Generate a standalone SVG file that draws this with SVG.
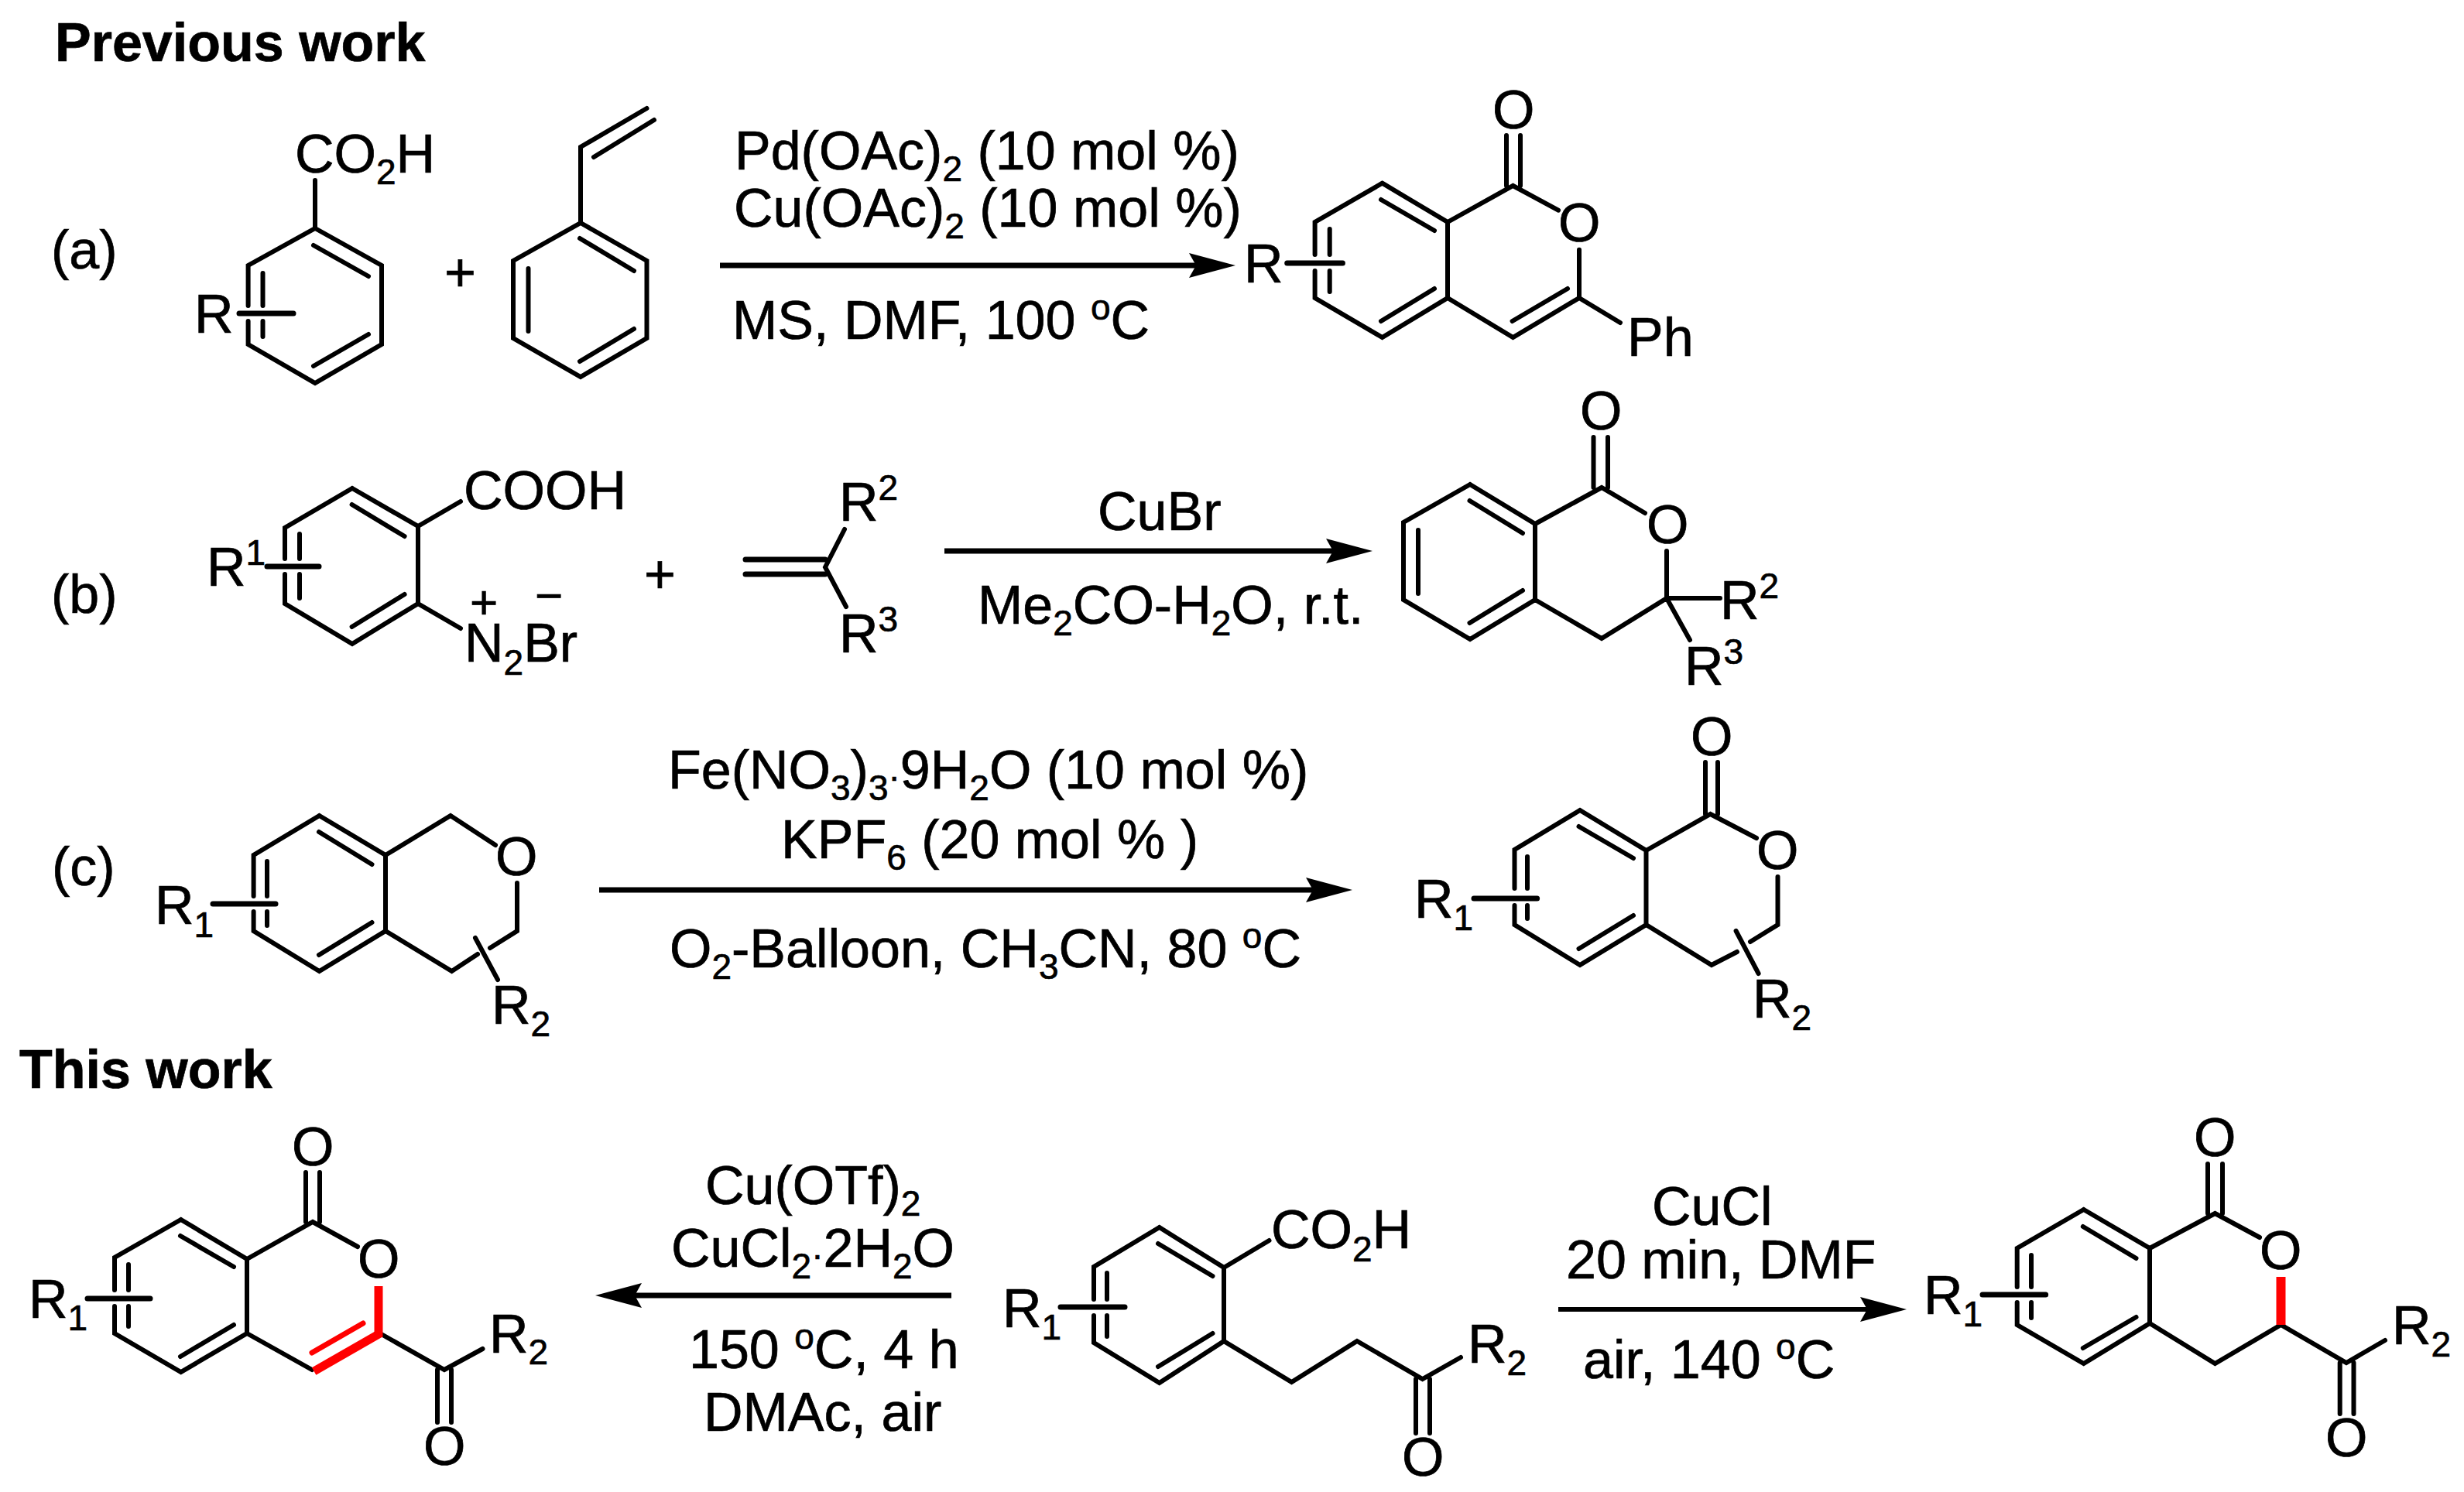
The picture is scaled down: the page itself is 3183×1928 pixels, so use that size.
<svg xmlns="http://www.w3.org/2000/svg" width="3183" height="1928" viewBox="0 0 3183 1928">
<style>
text{font-family:"Liberation Sans",Arial,sans-serif;font-size:70px;fill:#000;stroke:#000;stroke-width:.7}
.h{font-weight:bold}
.s{font-size:46px}
.b{fill:none;stroke:#000;stroke-width:6;stroke-linecap:round;stroke-linejoin:miter;stroke-miterlimit:4}
.r{fill:none;stroke:#000;stroke-width:7;stroke-linecap:round}
.a{fill:none;stroke:#000;stroke-width:7}
.red{fill:none;stroke:#f00}
</style>
<defs>
<marker id="head" markerUnits="userSpaceOnUse" markerWidth="60" markerHeight="32" viewBox="0 0 60 32" refX="9" refY="16" orient="auto"><path d="M0 0L60 16L0 32L9 16Z" fill="#000"/></marker>
</defs>
<rect width="3183" height="1928" fill="#fff"/>

<g id="labels">
<text class="h" x="71" y="79">Previous work</text>
<text class="h" x="25" y="1406">This work</text>
<text x="66" y="347">(a)</text>
<text x="66" y="792">(b)</text>
<text x="67" y="1144">(c)</text>
<text x="574" y="376">+</text>
<text x="832" y="766">+</text>
</g>

<g id="connectors">
<path class="a" marker-end="url(#head)" d="M930 343H1545"/>
<path class="a" marker-end="url(#head)" d="M1220 712H1722"/>
<path class="a" marker-end="url(#head)" d="M774 1150H1696"/>
<path class="a" marker-end="url(#head)" d="M1229 1674H820"/>
<path class="a" style="stroke-width:6" marker-end="url(#head)" d="M2013 1692H2412"/>
</g>

<g id="conditions-a">
<text x="949" y="219">Pd(OAc)<tspan class="s" dy="15">2</tspan><tspan dy="-15"> (10 mol %)</tspan></text>
<text x="948" y="293">Cu(OAc)<tspan class="s" dy="15">2</tspan><tspan dy="-15"> (10 mol %)</tspan></text>
<text x="946" y="438">MS, DMF, 100 <tspan class="s" dy="-25">o</tspan><tspan dy="25">C</tspan></text>
</g>
<g id="conditions-b">
<text x="1418" y="685">CuBr</text>
<text x="1263" y="806">Me<tspan class="s" dy="15">2</tspan><tspan dy="-15">CO-H</tspan><tspan class="s" dy="15">2</tspan><tspan dy="-15">O, r.t.</tspan></text>
</g>
<g id="conditions-c">
<text x="863" y="1019">Fe(NO<tspan class="s" dy="15">3</tspan><tspan dy="-15">)</tspan><tspan class="s" dy="15">3</tspan><tspan class="s" dy="-15">·</tspan><tspan>9H</tspan><tspan class="s" dy="15">2</tspan><tspan dy="-15">O (10 mol %)</tspan></text>
<text x="1009" y="1109">KPF<tspan class="s" dy="15">6</tspan><tspan dy="-15"> (20 mol % )</tspan></text>
<text x="865" y="1250">O<tspan class="s" dy="15">2</tspan><tspan dy="-15">-Balloon, CH</tspan><tspan class="s" dy="15">3</tspan><tspan dy="-15">CN, 80 </tspan><tspan class="s" dy="-25">o</tspan><tspan dy="25">C</tspan></text>
</g>
<g id="conditions-left">
<text x="911" y="1556">Cu(OTf)<tspan class="s" dy="15">2</tspan></text>
<text x="867" y="1637">CuCl<tspan class="s" dy="15">2</tspan><tspan class="s" dy="-15">·</tspan><tspan>2H</tspan><tspan class="s" dy="15">2</tspan><tspan dy="-15">O</tspan></text>
<text x="890" y="1768">150 <tspan class="s" dy="-25">o</tspan><tspan dy="25">C, 4 h</tspan></text>
<text x="909" y="1849">DMAc, air</text>
</g>
<g id="conditions-right">
<text x="2134" y="1583">CuCl</text>
<text x="2023" y="1652">20 min, DMF</text>
<text x="2045" y="1781">air, 140 <tspan class="s" dy="-25">o</tspan><tspan dy="25">C</tspan></text>
</g>

<g id="a-acid">
<path class="b" d="M407 295L493 343V445L407 495L320.6 445V415M320.6 395V343L407 295V233M405 317L476 357M476 432L405 473M339.5 353V395M339.5 415V435"/>
<path class="r" d="M309 405H379"/>
<text x="251" y="430">R</text>
<text x="381" y="223">CO<tspan class="s" dy="15">2</tspan><tspan dy="-15">H</tspan></text>
</g>
<g id="a-styrene">
<path class="b" d="M750 288L835.5 337V437L750 487L663 437V337L750 288V190L835.5 140M845 155L767 203M749 308L819 350M819 425L749 467M682.5 347V428"/>
</g>
<g id="a-product">
<path class="b" d="M1785.6 236.7L1870 287V385L1785.6 436L1698.6 385V350M1698.6 329V287L1785.6 236.7M1784 258L1853 298M1853 373L1784 415M1717.7 296V329M1717.7 350V377M1870 287L1954.5 240L2013 271.7M1946 175V240M1964 175V240M2040 322.7V385L1954.5 436L1870 385M2025 373L1953.6 415M2040 385L2093 417"/>
<path class="r" d="M1662.7 340H1734.4"/>
<text x="1607" y="365">R</text>
<text x="1928" y="166">O</text>
<text x="2013" y="312">O</text>
<text x="2102" y="460">Ph</text>
</g>

<g id="b-diazonium">
<path class="b" d="M455 631L540 680V780L455 832L368 780V742M368 722V682L455 631M454.6 652L522.6 693M522.6 768L454.6 810M387 690V722M387 742V773M540 680L595 648M540 680V780L595 812"/>
<path class="r" d="M345 732H412"/>
<text x="267" y="757">R<tspan class="s" dy="-27">1</tspan></text>
<text x="599" y="658">COOH</text>
<text x="600" y="855">N<tspan class="s" dy="17">2</tspan><tspan dy="-17">Br</tspan></text>
<text x="607" y="799" style="font-size:62px">+</text>
<text x="691" y="791" style="font-size:62px">−</text>
</g>
<g id="b-alkene">
<path class="b" style="stroke-width:7" d="M963 723H1066M963 742H1066"/>
<path class="b" d="M1091 684L1066 733L1093 784"/>
<text x="1084" y="673">R<tspan class="s" dy="-27">2</tspan></text>
<text x="1084" y="843">R<tspan class="s" dy="-27">3</tspan></text>
</g>
<g id="b-product">
<path class="b" d="M1899 626L1983 677V775L1899 826L1813 775V675L1899 626M1898.5 647L1967 689M1967 763L1898.5 805M1832 685V767M1983 677L2069 630L2125 663M2058.5 565V630M2077 565V630M2153 712V773L2069 825L1983 775M2153 773H2222M2153 773L2183 827"/>
<text x="2041" y="555">O</text>
<text x="2127" y="702">O</text>
<text x="2222" y="800">R<tspan class="s" dy="-27">2</tspan></text>
<text x="2176" y="885">R<tspan class="s" dy="-27">3</tspan></text>
</g>

<g id="c-ether">
<path class="b" d="M412.5 1054L498 1105V1203L412.5 1255L327.6 1203V1178M327.6 1158V1105L412.5 1054M412 1075L480.5 1117M480.5 1192L412 1234M345 1113V1158M345 1178V1196M498 1105L582 1054L640 1092M668 1141V1203L633 1225M617 1233L583.6 1255L498 1203M614 1212L643 1266"/>
<path class="r" d="M275 1168H356"/>
<text x="200" y="1194">R<tspan class="s" dy="17">1</tspan></text>
<text x="640" y="1131">O</text>
<text x="635" y="1323">R<tspan class="s" dy="16">2</tspan></text>
</g>
<g id="c-product">
<path class="b" d="M2041 1047L2126.5 1099V1195L2041 1247L1956.5 1195V1170M1956.5 1148V1098L2041 1047M2039.5 1068L2110 1109M2110 1183L2039.5 1226M1973 1107V1148M1973 1170V1187M2126.5 1099L2209.5 1052L2269 1083M2203 985V1052M2219 985V1052M2296.5 1133V1195L2261 1217M2244 1230L2211 1247L2126.5 1195M2242.6 1203L2271.6 1258"/>
<path class="r" d="M1904 1161H1985.6"/>
<text x="1827" y="1186">R<tspan class="s" dy="16">1</tspan></text>
<text x="2184" y="976">O</text>
<text x="2269" y="1123">O</text>
<text x="2264" y="1315">R<tspan class="s" dy="16">2</tspan></text>
</g>

<g id="left-product">
<path class="b" d="M233.7 1576L319 1627V1723L233.7 1773L148 1723V1688M148 1667V1625L233.7 1576M233 1597L302 1637M302 1712L233 1753M166 1634V1667M166 1688V1714M319 1627L404 1579L462 1611M395 1515V1579M413 1515V1579M319 1723L403 1770M489 1722L574 1770L623.5 1743M565 1770V1838M583 1770V1838"/>
<path class="r" d="M113 1678H194"/>
<path class="red" style="stroke-width:11" d="M489 1662V1728"/>
<path class="red" style="stroke-width:11" d="M491 1723L405.6 1772"/>
<path class="red" style="stroke-width:7;stroke-linecap:round" d="M469 1710L403 1748"/>
<text x="37" y="1703">R<tspan class="s" dy="16">1</tspan></text>
<text x="377" y="1506">O</text>
<text x="462" y="1651">O</text>
<text x="547" y="1893">O</text>
<text x="632" y="1748">R<tspan class="s" dy="15">2</tspan></text>
</g>

<g id="center-substrate">
<path class="b" d="M1497.7 1586L1581 1638V1733L1497.7 1787L1413 1735V1700M1413 1679V1637L1497.7 1586M1496 1607L1566.5 1649M1566.5 1723L1496 1766M1430 1645V1679M1430 1700V1727M1581 1638L1639.5 1603M1581 1638V1733L1668.5 1786L1753 1733L1837.6 1782L1887 1754M1829 1782V1852M1847 1782V1852"/>
<path class="r" d="M1370 1689H1453"/>
<text x="1295" y="1715">R<tspan class="s" dy="16">1</tspan></text>
<text x="1642" y="1613">CO<tspan class="s" dy="17">2</tspan><tspan dy="-17">H</tspan></text>
<text x="1811" y="1907">O</text>
<text x="1896" y="1761">R<tspan class="s" dy="16">2</tspan></text>
</g>

<g id="right-product">
<path class="b" d="M2691.7 1563L2777 1613V1710L2691.7 1762L2605.7 1712V1683M2605.7 1663V1613L2691.7 1563M2690.8 1585L2759.5 1626M2759.5 1702L2690.8 1742M2624 1622V1663M2624 1683V1703M2777 1613L2861.4 1568L2919 1599M2852 1504V1568M2871 1504V1568M2777 1710L2861.4 1762L2946.5 1712L3031 1761L3081 1732M3022.7 1761V1827M3040.5 1761V1827"/>
<path class="r" d="M2561 1673H2642.6"/>
<path class="red" style="stroke-width:12" d="M2946.5 1650V1712"/>
<text x="2485" y="1698">R<tspan class="s" dy="16">1</tspan></text>
<text x="2834" y="1494">O</text>
<text x="2919" y="1640">O</text>
<text x="3004" y="1882">O</text>
<text x="3090" y="1737">R<tspan class="s" dy="16">2</tspan></text>
</g>
</svg>
